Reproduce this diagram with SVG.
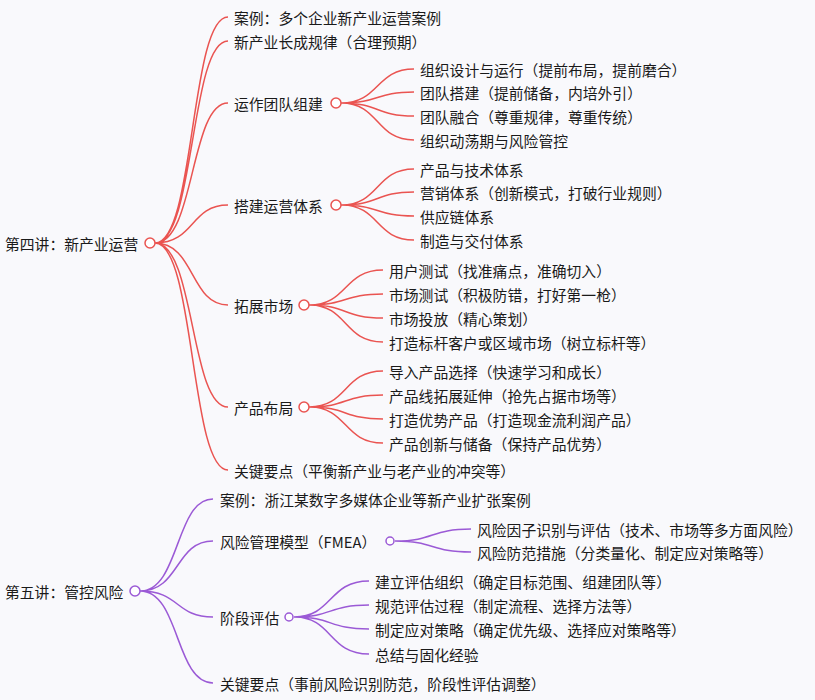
<svg xmlns="http://www.w3.org/2000/svg" width="815" height="700" viewBox="0 0 815 700">
<style>
text{font-family:"Noto Sans CJK SC","Noto Sans",sans-serif;font-size:14.8px;fill:#1a1a1a;dominant-baseline:central}
.r{fill:none;stroke:#ea5451;stroke-width:1.5}
.p{fill:none;stroke:#9b5ad6;stroke-width:1.5}
.cr{fill:#fff;stroke:#ea5451;stroke-width:1.5}
.cp{fill:#fff;stroke:#9b5ad6;stroke-width:1.5}
</style>
<rect width="815" height="700" fill="#f9f9fc"/>
<g id="connectors">
<path class="r" d="M155 243C195 243 190 17 228 17M155 243C195 243 190 41 228 41M155 243C195 243 190 103 228 103M155 243C195 243 190 205 228 205M155 243C195 243 190 305 228 305M155 243C195 243 190 407 228 407M155 243C195 243 190 470 228 470"/>
<path class="r" d="M341 103C380 103 375 69 414 69M341 103C380 103 375 92 414 92M341 103C380 103 375 116 414 116M341 103C380 103 375 140 414 140"/>
<path class="r" d="M341 205C380 205 375 169 414 169M341 205C380 205 375 192 414 192M341 205C380 205 375 216 414 216M341 205C380 205 375 240 414 240"/>
<path class="r" d="M309 305C348 305 343 270 383 270M309 305C348 305 343 294 383 294M309 305C348 305 343 318 383 318M309 305C348 305 343 342 383 342"/>
<path class="r" d="M309 407C348 407 343 371 383 371M309 407C348 407 343 395 383 395M309 407C348 407 343 419 383 419M309 407C348 407 343 443 383 443"/>
<path class="p" d="M140 591C180 591 175 499 213 499M140 591C180 591 175 541 213 541M140 591C180 591 175 617 213 617M140 591C180 591 175 683 213 683"/>
<path class="p" d="M395 541C435 541 430 529 471 529M395 541C435 541 430 552 471 552"/>
<path class="p" d="M294 617C333 617 328 581 369 581M294 617C333 617 328 605 369 605M294 617C333 617 328 629 369 629M294 617C333 617 328 654 369 654"/>
</g>
<g id="root1"><text x="5" y="243">第四讲：新产业运营</text><circle class="cr" cx="150" cy="243" r="5"/></g>
<g id="n1"><text x="234" y="17">案例：多个企业新产业运营案例</text></g>
<g id="n2"><text x="234" y="41">新产业长成规律（合理预期）</text></g>
<g id="n3"><text x="234" y="103">运作团队组建</text><circle class="cr" cx="336" cy="103" r="5"/></g>
<g id="n3a"><text x="420" y="69">组织设计与运行（提前布局，提前磨合）</text></g>
<g id="n3b"><text x="420" y="92">团队搭建（提前储备，内培外引）</text></g>
<g id="n3c"><text x="420" y="116">团队融合（尊重规律，尊重传统）</text></g>
<g id="n3d"><text x="420" y="140">组织动荡期与风险管控</text></g>
<g id="n4"><text x="234" y="205">搭建运营体系</text><circle class="cr" cx="336" cy="205" r="5"/></g>
<g id="n4a"><text x="420" y="169">产品与技术体系</text></g>
<g id="n4b"><text x="420" y="192">营销体系（创新模式，打破行业规则）</text></g>
<g id="n4c"><text x="420" y="216">供应链体系</text></g>
<g id="n4d"><text x="420" y="240">制造与交付体系</text></g>
<g id="n5"><text x="234" y="305">拓展市场</text><circle class="cr" cx="304" cy="305" r="5"/></g>
<g id="n5a"><text x="389" y="270">用户测试（找准痛点，准确切入）</text></g>
<g id="n5b"><text x="389" y="294">市场测试（积极防错，打好第一枪）</text></g>
<g id="n5c"><text x="389" y="318">市场投放（精心策划）</text></g>
<g id="n5d"><text x="389" y="342">打造标杆客户或区域市场（树立标杆等）</text></g>
<g id="n6"><text x="234" y="407">产品布局</text><circle class="cr" cx="304" cy="407" r="5"/></g>
<g id="n6a"><text x="389" y="371">导入产品选择（快速学习和成长）</text></g>
<g id="n6b"><text x="389" y="395">产品线拓展延伸（抢先占据市场等）</text></g>
<g id="n6c"><text x="389" y="419">打造优势产品（打造现金流利润产品）</text></g>
<g id="n6d"><text x="389" y="443">产品创新与储备（保持产品优势）</text></g>
<g id="n7"><text x="234" y="470">关键要点（平衡新产业与老产业的冲突等）</text></g>
<g id="root2"><text x="5" y="591">第五讲：管控风险</text><circle class="cp" cx="135" cy="591" r="5"/></g>
<g id="m1"><text x="220" y="499">案例：浙江某数字多媒体企业等新产业扩张案例</text></g>
<g id="m2"><text x="220" y="541">风险管理模型（FMEA）</text><circle class="cp" cx="390" cy="541" r="4"/></g>
<g id="m2a"><text x="477" y="529">风险因子识别与评估（技术、市场等多方面风险）</text></g>
<g id="m2b"><text x="477" y="552">风险防范措施（分类量化、制定应对策略等）</text></g>
<g id="m3"><text x="220" y="617">阶段评估</text><circle class="cp" cx="289" cy="617" r="4"/></g>
<g id="m3a"><text x="375" y="581">建立评估组织（确定目标范围、组建团队等）</text></g>
<g id="m3b"><text x="375" y="605">规范评估过程（制定流程、选择方法等）</text></g>
<g id="m3c"><text x="375" y="629">制定应对策略（确定优先级、选择应对策略等）</text></g>
<g id="m3d"><text x="375" y="654">总结与固化经验</text></g>
<g id="m4"><text x="220" y="683">关键要点（事前风险识别防范，阶段性评估调整）</text></g>
</svg>
